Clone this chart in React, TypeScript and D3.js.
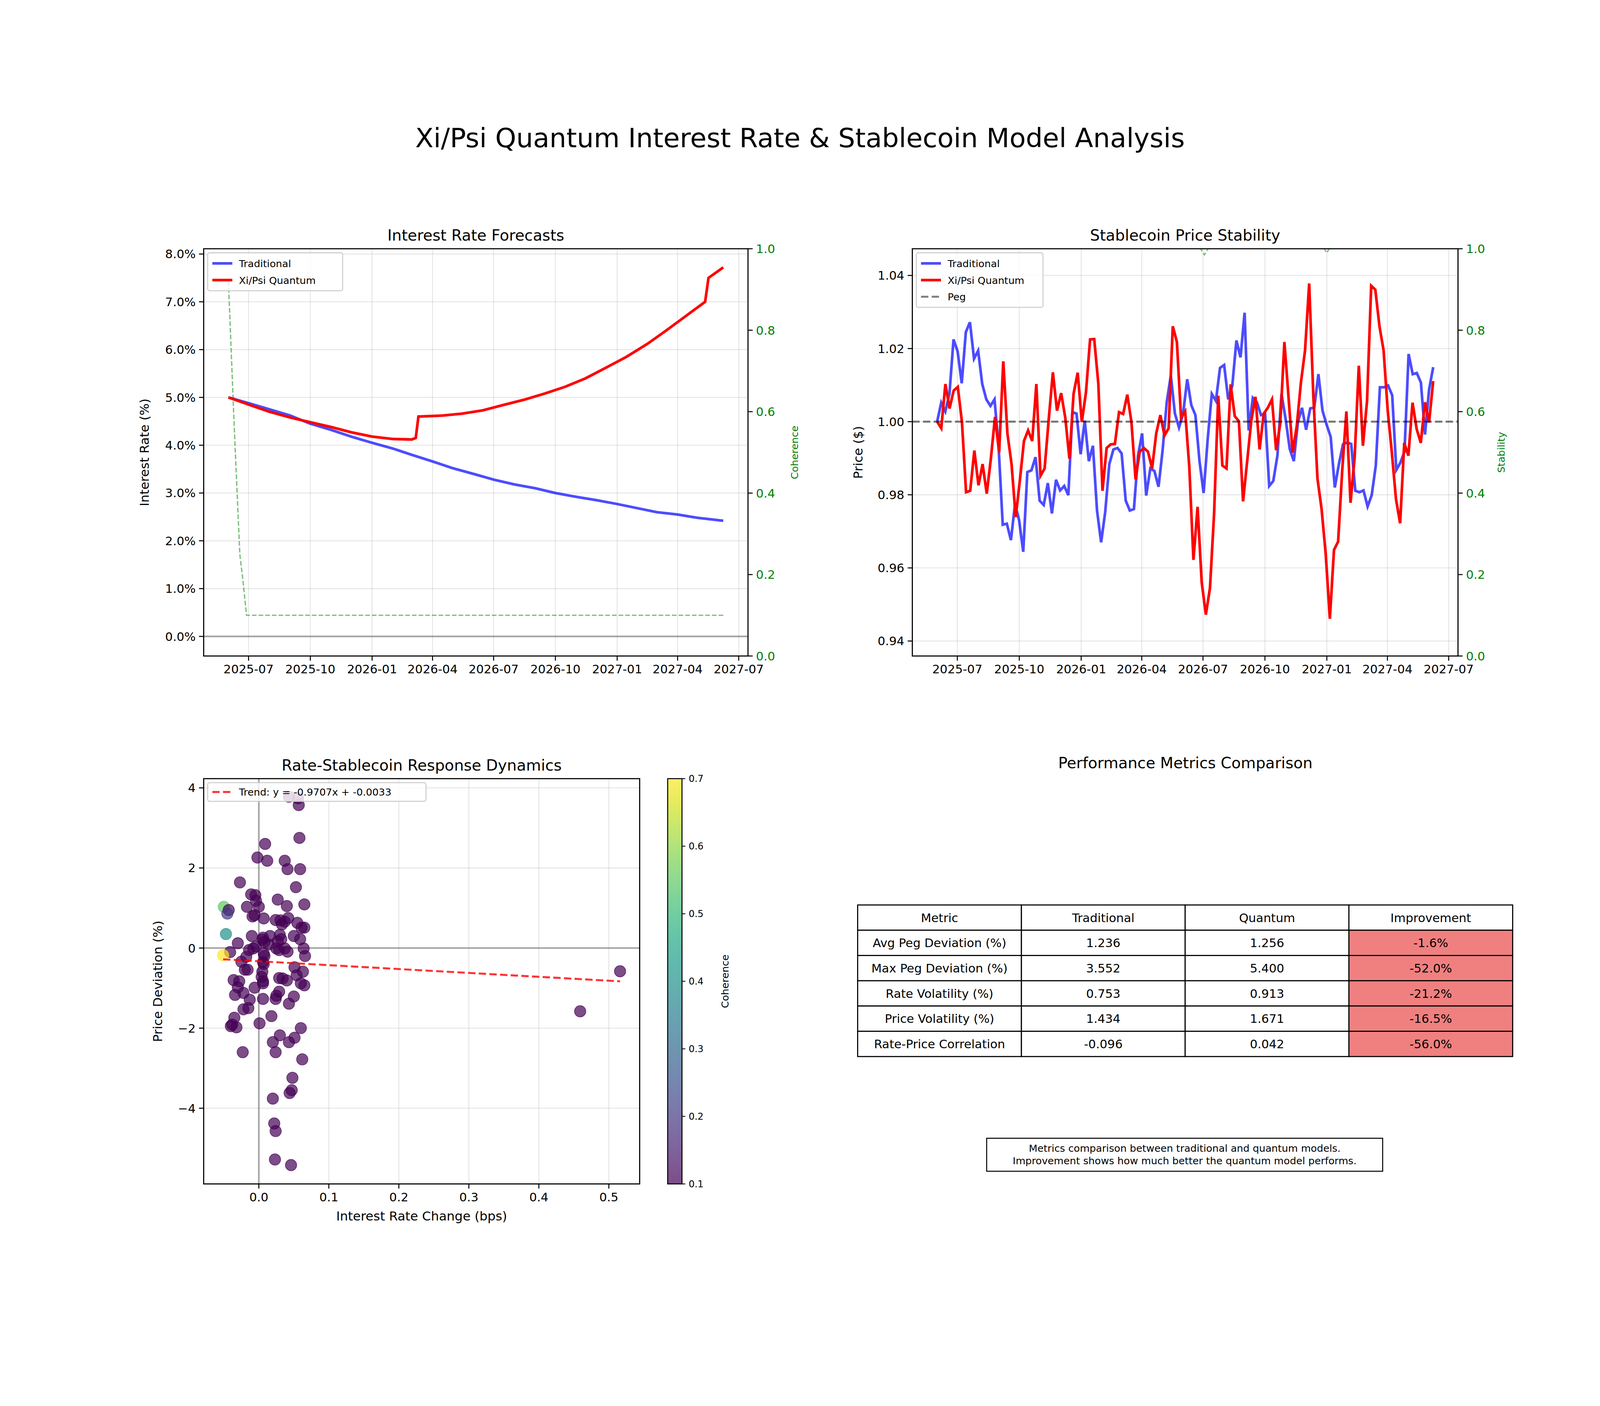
import React from "react";
import * as d3 from "d3";

const rateTradDates = ["2025-06-01","2025-07-01","2025-08-01","2025-09-01","2025-10-01","2025-11-01","2025-12-01","2026-01-01","2026-02-01","2026-03-01","2026-04-01","2026-05-01","2026-06-01","2026-07-01","2026-08-01","2026-09-01","2026-10-01","2026-11-01","2026-12-01","2027-01-01","2027-02-01","2027-03-01","2027-04-01","2027-05-01","2027-06-08"];
const rateTrad = [5.0,4.88,4.75,4.62,4.45,4.32,4.18,4.05,3.93,3.8,3.66,3.52,3.4,3.28,3.18,3.1,3.0,2.92,2.85,2.77,2.68,2.6,2.55,2.48,2.42];
const rateQuantDates = ["2025-06-01","2025-07-01","2025-08-01","2025-09-01","2025-10-01","2025-11-01","2025-12-01","2026-01-01","2026-02-01","2026-03-01","2026-03-07","2026-03-11","2026-04-15","2026-05-15","2026-06-15","2026-07-15","2026-08-15","2026-09-15","2026-10-15","2026-11-15","2026-12-15","2027-01-15","2027-02-15","2027-03-15","2027-04-15","2027-05-12","2027-05-17","2027-06-08"];
const rateQuant = [5.0,4.85,4.7,4.58,4.48,4.38,4.27,4.18,4.13,4.12,4.15,4.6,4.62,4.66,4.73,4.84,4.95,5.08,5.22,5.4,5.62,5.85,6.12,6.4,6.72,7.0,7.5,7.72];
const coherenceDates = ["2025-06-01","2025-06-10","2025-06-18","2025-06-23","2025-06-28","2027-06-08"];
const coherence = [0.92,0.55,0.25,0.18,0.1,0.1];

const priceTrad = [1.0,1.0052,1.0028,1.0076,1.0225,1.0192,1.0105,1.0245,1.0272,1.0172,1.0194,1.0103,1.0061,1.0043,1.0061,0.993,0.9718,0.9721,0.9676,0.9775,0.973,0.9644,0.9862,0.9867,0.9903,0.9784,0.9772,0.9832,0.9749,0.9841,0.9812,0.9824,0.9799,1.0026,1.0022,0.9911,1.0003,0.9892,0.9934,0.9757,0.967,0.9753,0.9884,0.9924,0.9928,0.9913,0.9784,0.9757,0.9761,0.9907,0.9968,0.9798,0.9872,0.9865,0.9822,0.9922,1.0053,1.0126,1.0022,0.9984,1.0022,1.0116,1.0045,1.0018,0.9892,0.9805,0.9953,1.0076,1.0057,1.0147,1.0155,1.0061,1.0099,1.0222,1.0176,1.0298,0.9976,1.0065,1.0053,1.0018,1.0022,0.9824,0.9838,0.9907,1.0076,1.0007,0.9926,0.9892,0.9999,1.0038,0.9978,1.0036,1.0039,1.013,1.003,0.9992,0.9958,0.982,0.9884,0.9938,0.9943,0.9939,0.9811,0.9807,0.9812,0.9768,0.9799,0.988,1.0094,1.0094,1.0099,1.0072,0.9868,0.9888,0.9918,1.0185,1.013,1.0133,1.0107,0.9965,1.0088,1.0149];
const priceQuant = [1.0,0.9982,1.0103,1.0036,1.0085,1.0095,0.9999,0.9807,0.9811,0.9921,0.9826,0.9884,0.9803,0.9899,1.0013,0.9916,1.0165,0.9968,0.9884,0.9739,0.9838,0.9947,0.9976,0.9947,1.0103,0.9852,0.9872,1.0007,1.0135,1.003,1.0078,1.0011,0.9899,1.0076,1.0134,0.9999,1.008,1.0225,1.0226,1.0103,0.9811,0.9928,0.9938,0.9939,1.0026,1.0021,1.0074,0.9999,0.9842,0.9918,0.9928,0.9918,0.9872,0.9968,1.0018,0.9962,0.9982,1.0261,1.0218,1.0011,1.0028,0.9876,0.9622,0.9767,0.9561,0.9472,0.9545,0.9749,1.0071,0.988,0.9872,1.0102,1.0015,1.0001,0.9782,0.9892,1.0003,1.0068,0.9924,1.0022,1.0038,1.0061,0.9922,0.9995,1.0218,1.0068,0.9915,0.9988,1.0107,1.0195,1.0378,1.0072,0.9845,0.9761,0.9638,0.9461,0.9649,0.9672,0.9868,1.0028,0.9778,0.9903,1.0153,0.9934,1.0057,1.0372,1.0361,1.0261,1.0195,1.003,0.9915,0.9788,0.9722,0.9942,0.9907,1.0052,0.998,0.9942,1.0053,0.9998,1.0111];
const stabilityDates = ["2025-06-01","2026-06-20","2026-07-03","2026-07-16","2026-12-20","2027-01-01","2027-01-12","2027-06-08"];
const stability = [1.05,1.02,0.985,1.02,1.02,0.99,1.02,1.05];

const scatterX = [0.043,0.056,0.057,0.058,0.009,-0.002,0.012,0.037,0.041,0.059,-0.027,0.053,-0.011,-0.005,-0.004,0.027,-0.017,0.0,0.04,0.065,-0.05,-0.043,-0.045,-0.009,-0.006,0.007,0.024,0.031,0.042,0.037,0.055,0.033,0.061,0.065,-0.047,-0.01,0.016,0.006,0.005,0.03,0.027,0.032,-0.03,0.008,0.014,0.059,0.05,-0.014,-0.008,-0.004,0.025,0.029,0.037,0.041,0.064,-0.041,-0.051,0.007,0.008,0.066,-0.025,-0.018,-0.02,-0.016,0.006,0.007,0.051,0.054,0.063,0.005,0.004,0.006,0.006,-0.036,-0.028,0.029,0.034,0.04,0.06,0.065,-0.03,-0.006,-0.022,-0.034,0.029,0.025,0.024,0.006,0.05,0.043,-0.013,-0.015,-0.022,0.018,-0.035,-0.038,-0.04,-0.032,0.001,0.06,0.03,0.051,0.02,0.043,-0.023,0.024,0.062,0.048,0.047,0.044,0.02,0.022,0.024,0.023,0.046,0.459,0.516];
const scatterY = [3.78,3.74,3.57,2.75,2.6,2.26,2.18,2.18,1.97,1.97,1.64,1.52,1.34,1.32,1.18,1.21,1.03,1.03,1.05,1.09,1.03,0.95,0.86,0.79,0.82,0.74,0.7,0.69,0.75,0.66,0.63,0.59,0.51,0.51,0.35,0.3,0.3,0.26,0.21,0.33,0.17,0.22,0.12,0.15,0.09,0.22,0.3,-0.05,-0.01,0.04,-0.01,-0.05,-0.01,-0.09,-0.01,-0.1,-0.18,-0.14,-0.2,-0.2,-0.34,-0.22,-0.54,-0.54,-0.35,-0.4,-0.48,-0.68,-0.59,-0.59,-0.72,-0.83,-0.88,-0.8,-0.83,-0.75,-0.76,-0.81,-0.88,-0.93,-0.98,-0.99,-1.12,-1.17,-1.09,-1.19,-1.27,-1.27,-1.21,-1.39,-1.29,-1.5,-1.53,-1.7,-1.74,-1.91,-1.95,-1.98,-1.88,-2.0,-2.18,-2.24,-2.35,-2.35,-2.6,-2.6,-2.78,-3.24,-3.55,-3.62,-3.76,-4.38,-4.57,-5.28,-5.42,-1.58,-0.58];
const scatterC = [0.1,0.1,0.1,0.1,0.1,0.1,0.1,0.1,0.1,0.1,0.1,0.1,0.1,0.1,0.1,0.1,0.1,0.1,0.1,0.1,0.55,0.1,0.2,0.1,0.1,0.1,0.1,0.1,0.1,0.1,0.1,0.1,0.1,0.1,0.4,0.1,0.1,0.1,0.1,0.1,0.1,0.1,0.1,0.1,0.1,0.1,0.1,0.1,0.1,0.1,0.1,0.1,0.1,0.1,0.1,0.1,0.7,0.1,0.1,0.1,0.1,0.1,0.1,0.1,0.1,0.1,0.1,0.1,0.1,0.1,0.1,0.1,0.1,0.1,0.1,0.1,0.1,0.1,0.1,0.1,0.1,0.1,0.1,0.1,0.1,0.1,0.1,0.1,0.1,0.1,0.1,0.1,0.1,0.1,0.1,0.1,0.1,0.1,0.1,0.1,0.1,0.1,0.1,0.1,0.1,0.1,0.1,0.1,0.1,0.1,0.1,0.1,0.1,0.1,0.1,0.1,0.1];
const trendCoef = [-0.9707, -0.33];

const tableHeader = ["Metric", "Traditional", "Quantum", "Improvement"];
const metricNames = ["Avg Peg Deviation (%)", "Max Peg Deviation (%)", "Rate Volatility (%)", "Price Volatility (%)", "Rate-Price Correlation"];
const tradValues = ["1.236", "3.552", "0.753", "1.434", "-0.096"];
const quantValues = ["1.256", "5.400", "0.913", "1.671", "0.042"];
const improvements = ["-1.6%", "-52.0%", "-21.2%", "-16.5%", "-56.0%"];

const F = "DejaVu Sans, sans-serif";
const TICK = 36;
const pd = (s: string) => new Date(s + "T00:00:00");
const startDate = pd("2025-06-01");
const endDate = pd("2027-06-08");
const span = +endDate - +startDate;
const xDom = [new Date(+startDate - 0.05 * span), new Date(+endDate + 0.05 * span)];
const seriesDates = (n: number) => d3.range(n).map(i => new Date(+startDate + (span * i) / (n - 1)));
const dateTicks = d3.timeMonth.every(3)!.range(pd("2025-07-01"), pd("2027-07-02"));
const fmtDate = d3.timeFormat("%Y-%m");

function Frame({ L, R, T, B }: any) {
  return <rect x={L} y={T} width={R - L} height={B - T} fill="none" stroke="#000" strokeWidth={3.3} />;
}

function DateXAxis({ x, B, T }: any) {
  return <g>
    {dateTicks.map((d, i) => <g key={i}>
      <line x1={x(d)} x2={x(d)} y1={T} y2={B} stroke="#b0b0b0" strokeOpacity={0.3} strokeWidth={3} />
      <line x1={x(d)} x2={x(d)} y1={B} y2={B + 14} stroke="#000" strokeWidth={3} />
      <text x={x(d)} y={B + 52} fontSize={TICK} textAnchor="middle">{fmtDate(d)}</text>
    </g>)}
  </g>;
}

function YAxis({ y, ticks, fmt, L, R, color = "#000", grid = true, right = false }: any) {
  return <g>
    {ticks.map((t: number, i: number) => <g key={i}>
      {grid && <line x1={L} x2={R} y1={y(t)} y2={y(t)} stroke="#b0b0b0" strokeOpacity={0.3} strokeWidth={3} />}
      {right ? <>
        <line x1={R} x2={R + 14} y1={y(t)} y2={y(t)} stroke="#000" strokeWidth={3} />
        <text x={R + 24} y={y(t) + 13} fontSize={TICK} fill={color}>{fmt(t)}</text>
      </> : <>
        <line x1={L - 14} x2={L} y1={y(t)} y2={y(t)} stroke="#000" strokeWidth={3} />
        <text x={L - 24} y={y(t) + 13} fontSize={TICK} textAnchor="end" fill={color}>{fmt(t)}</text>
      </>}
    </g>)}
  </g>;
}

function Legend({ x, y, w, items }: any) {
  const h = items.length * 50 + 14;
  return <g>
    <rect x={x} y={y} width={w} height={h} fill="#fff" fillOpacity={0.8} stroke="#ccc" strokeWidth={3} rx={6} />
    {items.map((it: any, i: number) => <g key={i}>
      <line x1={x + 14} x2={x + 74} y1={y + 32 + i * 50} y2={y + 32 + i * 50} stroke={it.c} strokeWidth={it.w || 8} strokeDasharray={it.dash || null} strokeOpacity={it.o || 1} />
      <text x={x + 94} y={y + 43 + i * 50} fontSize={30}>{it.t}</text>
    </g>)}
  </g>;
}

function RatePanel() {
  const L = 611, R = 2244, T = 437, B = 1659;
  const x = d3.scaleTime().domain(xDom).range([L, R]);
  const y = d3.scaleLinear().domain([-0.41, 8.11]).range([B, T]);
  const y2 = d3.scaleLinear().domain([0, 1]).range([B, T]);
  const line = d3.line<[Date, number]>().x(d => x(d[0])).y(d => y(d[1]));
  const tradPts = rateTradDates.map((d, i) => [pd(d), rateTrad[i]] as [Date, number]);
  const quantPts = rateQuantDates.map((d, i) => [pd(d), rateQuant[i]] as [Date, number]);
  const cohLine = d3.line<[Date, number]>().x(d => x(d[0])).y(d => y2(d[1]));
  const cohPts = coherenceDates.map((d, i) => [pd(d), coherence[i]] as [Date, number]);
  return <g>
    <text x={(L + R) / 2} y={T - 24} fontSize={46} textAnchor="middle">Interest Rate Forecasts</text>
    <DateXAxis x={x} B={B} T={T} />
    <YAxis y={y} ticks={d3.range(0, 8.01, 1)} fmt={(t: number) => t.toFixed(1) + "%"} L={L} R={R} />
    <YAxis y={y2} ticks={d3.range(0, 1.01, 0.2)} fmt={(t: number) => t.toFixed(1)} L={L} R={R} color="green" grid={false} right />
    <line x1={L} x2={R} y1={y(0)} y2={y(0)} stroke="#000" strokeOpacity={0.3} strokeWidth={5} />
    <path d={cohLine(cohPts)!} fill="none" stroke="green" strokeOpacity={0.5} strokeWidth={4} strokeDasharray="14 6" />
    <path d={line(tradPts)!} fill="none" stroke="blue" strokeOpacity={0.7} strokeWidth={8} />
    <path d={line(quantPts)!} fill="none" stroke="red" strokeWidth={8} />
    <Frame L={L} R={R} T={T} B={B} />
    <text transform={`translate(${L - 165},${(T + B) / 2}) rotate(-90)`} fontSize={38} textAnchor="middle">Interest Rate (%)</text>
    <text transform={`translate(${R + 150},${(T + B) / 2}) rotate(-90)`} fontSize={30} textAnchor="middle" fill="green">Coherence</text>
    <Legend x={L + 12} y={T + 12} w={405} items={[{ t: "Traditional", c: "blue", o: 0.7 }, { t: "Xi/Psi Quantum", c: "red" }]} />
  </g>;
}

function PricePanel() {
  const L = 2737, R = 4374, T = 437, B = 1659;
  const x = d3.scaleTime().domain(xDom).range([L, R]);
  const y = d3.scaleLinear().domain([0.9359, 1.0473]).range([B, T]);
  const y2 = d3.scaleLinear().domain([0, 1]).range([B, T]);
  const line = d3.line<[Date, number]>().x(d => x(d[0])).y(d => y(d[1]));
  const dT = seriesDates(priceTrad.length), dQ = seriesDates(priceQuant.length);
  const sLine = d3.line<[Date, number]>().x(d => x(d[0])).y(d => y2(d[1]));
  const sPts = stabilityDates.map((d, i) => [pd(d), stability[i]] as [Date, number]);
  return <g>
    <defs><clipPath id="cp2"><rect x={L} y={T} width={R - L} height={B - T} /></clipPath></defs>
    <text x={(L + R) / 2} y={T - 24} fontSize={46} textAnchor="middle">Stablecoin Price Stability</text>
    <DateXAxis x={x} B={B} T={T} />
    <YAxis y={y} ticks={[0.94, 0.96, 0.98, 1.0, 1.02, 1.04]} fmt={(t: number) => t.toFixed(2)} L={L} R={R} />
    <YAxis y={y2} ticks={d3.range(0, 1.01, 0.2)} fmt={(t: number) => t.toFixed(1)} L={L} R={R} color="green" grid={false} right />
    <g clipPath="url(#cp2)">
      <path d={sLine(sPts)!} fill="none" stroke="green" strokeOpacity={0.5} strokeWidth={4} strokeDasharray="14 6" />
    </g>
    <path d={line(priceTrad.map((v, i) => [dT[i], v]))!} fill="none" stroke="blue" strokeOpacity={0.7} strokeWidth={8} />
    <path d={line(priceQuant.map((v, i) => [dQ[i], v]))!} fill="none" stroke="red" strokeWidth={8} />
    <line x1={L} x2={R} y1={y(1)} y2={y(1)} stroke="#000" strokeOpacity={0.5} strokeWidth={6} strokeDasharray="22 10" />
    <Frame L={L} R={R} T={T} B={B} />
    <text transform={`translate(${L - 150},${(T + B) / 2}) rotate(-90)`} fontSize={38} textAnchor="middle">Price ($)</text>
    <text transform={`translate(${R + 140},${(T + B) / 2}) rotate(-90)`} fontSize={30} textAnchor="middle" fill="green">Stability</text>
    <Legend x={L + 12} y={T + 12} w={380} items={[{ t: "Traditional", c: "blue", o: 0.7 }, { t: "Xi/Psi Quantum", c: "red" }, { t: "Peg", c: "#000", o: 0.5, w: 6, dash: "22 10" }]} />
  </g>;
}

function ScatterPanel() {
  const L = 611, R = 1919, T = 2027, B = 3243;
  const x = d3.scaleLinear().domain([-0.0788, 0.544]).range([L, R]);
  const y = d3.scaleLinear().domain([-5.89, 4.23]).range([B, T]);
  const cScale = d3.scaleSequential(d3.interpolateViridis).domain([0.1, 0.7]);
  const cbL = 2003, cbR = 2046;
  const cy = d3.scaleLinear().domain([0.1, 0.7]).range([B, T]);
  const xs = [d3.min(scatterX)!, d3.max(scatterX)!];
  const stops = d3.range(0, 1.001, 0.05);
  return <g>
    <defs>
      <clipPath id="cp3"><rect x={L} y={T} width={R - L} height={B - T} /></clipPath>
      <linearGradient id="vir" x1="0" x2="0" y1="1" y2="0">
        {stops.map((s, i) => <stop key={i} offset={s} stopColor={d3.interpolateViridis(s)} stopOpacity={0.7} />)}
      </linearGradient>
    </defs>
    <text x={(L + R) / 2} y={T - 24} fontSize={46} textAnchor="middle">Rate-Stablecoin Response Dynamics</text>
    {[0, 0.1, 0.2, 0.3, 0.4, 0.5].map((t, i) => <g key={i}>
      <line x1={x(t)} x2={x(t)} y1={T} y2={B} stroke="#b0b0b0" strokeOpacity={0.3} strokeWidth={3} />
      <line x1={x(t)} x2={x(t)} y1={B} y2={B + 14} stroke="#000" strokeWidth={3} />
      <text x={x(t)} y={B + 52} fontSize={TICK} textAnchor="middle">{t.toFixed(1)}</text>
    </g>)}
    <YAxis y={y} ticks={[-4, -2, 0, 2, 4]} fmt={(t: number) => (t < 0 ? "\u2212" + Math.abs(t) : String(t))} L={L} R={R} />
    <line x1={L} x2={R} y1={y(0)} y2={y(0)} stroke="#000" strokeOpacity={0.3} strokeWidth={5} />
    <line x1={x(0)} x2={x(0)} y1={T} y2={B} stroke="#000" strokeOpacity={0.3} strokeWidth={5} />
    <g clipPath="url(#cp3)">
      {scatterX.map((v, i) => <circle key={i} cx={x(v)} cy={y(scatterY[i])} r={17} fill={cScale(scatterC[i])} fillOpacity={0.7} stroke={cScale(scatterC[i])} strokeOpacity={0.7} strokeWidth={2} />)}
    </g>
    <line x1={x(xs[0])} x2={x(xs[1])} y1={y(trendCoef[0] * xs[0] + trendCoef[1])} y2={y(trendCoef[0] * xs[1] + trendCoef[1])} stroke="red" strokeOpacity={0.8} strokeWidth={6} strokeDasharray="22 10" />
    <Frame L={L} R={R} T={T} B={B} />
    <text x={(L + R) / 2} y={B + 110} fontSize={38} textAnchor="middle">Interest Rate Change (bps)</text>
    <text transform={`translate(${L - 125},${(T + B) / 2}) rotate(-90)`} fontSize={38} textAnchor="middle">Price Deviation (%)</text>
    <g>
      <rect x={L + 12} y={T + 12} width={655} height={56} fill="#fff" fillOpacity={0.8} stroke="#ccc" strokeWidth={3} rx={6} />
      <line x1={L + 26} x2={L + 86} y1={T + 40} y2={T + 40} stroke="red" strokeOpacity={0.8} strokeWidth={6} strokeDasharray="22 10" />
      <text x={L + 106} y={T + 51} fontSize={30}>{`Trend: y = ${trendCoef[0].toFixed(4)}x + -0.0033`}</text>
    </g>
    <rect x={cbL} y={T} width={cbR - cbL} height={B - T} fill="url(#vir)" stroke="#000" strokeWidth={3} />
    {[0.1, 0.2, 0.3, 0.4, 0.5, 0.6, 0.7].map((t, i) => <g key={i}>
      <line x1={cbR} x2={cbR + 10} y1={cy(t)} y2={cy(t)} stroke="#000" strokeWidth={2.5} />
      <text x={cbR + 20} y={cy(t) + 10} fontSize={28}>{t.toFixed(1)}</text>
    </g>)}
    <text transform={`translate(${cbR + 140},${(T + B) / 2}) rotate(-90)`} fontSize={30} textAnchor="middle">Coherence</text>
  </g>;
}

function TablePanel() {
  const L = 2573, R = 4538, T = 2406, rh = 75.8;
  const cw = (R - L) / 4;
  const rows = [tableHeader, ...metricNames.map((m, i) => [m, tradValues[i], quantValues[i], improvements[i]])];
  return <g>
    <text x={3556} y={1996} fontSize={46} textAnchor="middle">Performance Metrics Comparison</text>
    {rows.map((r, ri) => r.map((c, ci) => <g key={ri + "-" + ci}>
      <rect x={L + ci * cw} y={T + ri * rh} width={cw} height={rh} fill={ri > 0 && ci === 3 ? "lightcoral" : "#fff"} stroke="#000" strokeWidth={3.3} />
      <text x={L + ci * cw + cw / 2} y={T + ri * rh + rh / 2 + 13} fontSize={36} textAnchor="middle">{c}</text>
    </g>))}
    <rect x={2960} y={3106} width={1188} height={99} fill="#fff" stroke="#000" strokeWidth={3} />
    <text x={3554} y={3146} fontSize={30} textAnchor="middle">Metrics comparison between traditional and quantum models.</text>
    <text x={3554} y={3184} fontSize={30} textAnchor="middle">Improvement shows how much better the quantum model performs.</text>
  </g>;
}

export default function App() {
  return <svg viewBox="0 0 4800 3600" preserveAspectRatio="xMidYMid meet" fontFamily={F}
    style={{ position: "fixed", left: 0, top: 0, width: "100vw", height: "100vh", display: "block", background: "#fff" }}>
    <rect width={4800} height={3600} fill="#fff" />
    <text x={2400} y={132} fontSize={80} textAnchor="middle">Xi/Psi Quantum Interest Rate &amp; Stablecoin Model Analysis</text>
    <RatePanel />
    <PricePanel />
    <ScatterPanel />
    <TablePanel />
  </svg>;
}
